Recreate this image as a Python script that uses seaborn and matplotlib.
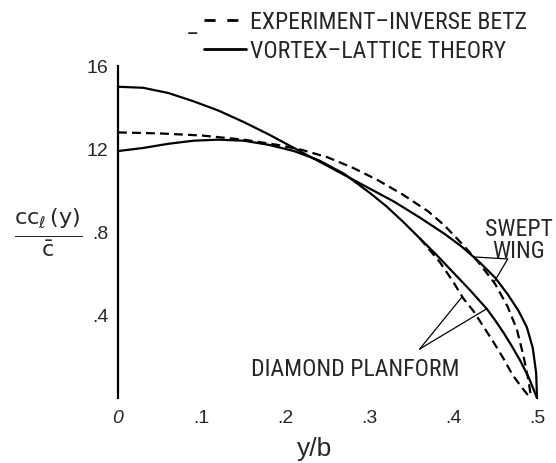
import matplotlib
matplotlib.use("Agg")
import matplotlib.pyplot as plt
import seaborn as sns
import pandas as pd
from matplotlib.lines import Line2D

# ---------------- data ----------------
swept_theory_x = [0.0, 0.03, 0.06, 0.09, 0.12, 0.15, 0.18, 0.21, 0.24, 0.27, 0.30, 0.33, 0.36,
                  0.39, 0.41, 0.43, 0.45, 0.465, 0.478, 0.488, 0.495, 0.499, 0.5]
swept_theory_y = [1.50, 1.495, 1.47, 1.43, 1.385, 1.33, 1.27, 1.205, 1.14, 1.075, 1.01, 0.945, 0.87,
                  0.79, 0.73, 0.66, 0.58, 0.50, 0.42, 0.34, 0.24, 0.12, 0.0]

diamond_theory_x = [0.0, 0.03, 0.06, 0.09, 0.12, 0.15, 0.18, 0.21, 0.24, 0.27, 0.30, 0.32, 0.34,
                    0.36, 0.38, 0.40, 0.42, 0.44, 0.45, 0.46, 0.47, 0.48, 0.49, 0.5]
diamond_theory_y = [1.19, 1.205, 1.225, 1.24, 1.245, 1.24, 1.22, 1.19, 1.145, 1.08, 0.99, 0.925, 0.85,
                    0.77, 0.69, 0.605, 0.52, 0.43, 0.375, 0.315, 0.25, 0.18, 0.10, 0.0]

swept_exp_x = [0.0, 0.05, 0.10, 0.15, 0.19, 0.22, 0.25, 0.28, 0.31, 0.34, 0.37, 0.39, 0.41,
               0.43, 0.45, 0.465, 0.476, 0.484, 0.49, 0.493]
swept_exp_y = [1.28, 1.275, 1.265, 1.245, 1.22, 1.195, 1.16, 1.11, 1.05, 0.98, 0.90, 0.83, 0.745,
               0.655, 0.55, 0.44, 0.33, 0.20, 0.08, 0.0]

diamond_exp_x = [0.36, 0.384, 0.40, 0.412, 0.424, 0.436, 0.448, 0.46, 0.471, 0.482, 0.49]
diamond_exp_y = [0.77, 0.655, 0.56, 0.48, 0.42, 0.345, 0.27, 0.19, 0.11, 0.05, 0.01]

x_ticks = [0.0, 0.1, 0.2, 0.3, 0.4, 0.5]
x_tick_labels = ["0", ".1", ".2", ".3", ".4", ".5"]
y_ticks = [0.4, 0.8, 1.2, 1.6]
y_tick_labels = [".4", ".8", "12", "16"]

legend_labels = ["EXPERIMENT\u2013INVERSE BETZ", "VORTEX\u2013LATTICE THEORY"]

# ---------------- style ----------------
sns.set_style("white")
NARROW = ["Liberation Sans Narrow", "Roboto Condensed", "Open Sans Condensed",
          "Liberation Sans", "DejaVu Sans"]
REG = ["Liberation Sans", "DejaVu Sans"]
plt.rcParams["font.family"] = NARROW
plt.rcParams["mathtext.fontset"] = "dejavusans"

W, H = 556, 464
fig = plt.figure(figsize=(W / 100, H / 100), dpi=100)
ax = fig.add_axes([118 / W, (H - 399) / H, 419 / W, 332 / H])

# fit the annotation font size to the reference text width
renderer = fig.canvas.get_renderer()
probe = fig.text(0, 0, legend_labels[0], fontsize=16)
wpx = probe.get_window_extent(renderer).width
probe.remove()
FS = 16 * 277 / wpx
EM = FS * 100 / 72  # px

DASH = (0, (4.0, 2.3))
curves = [
    (swept_theory_x, swept_theory_y, "-"),
    (diamond_theory_x, diamond_theory_y, "-"),
    (swept_exp_x, swept_exp_y, DASH),
    (diamond_exp_x, diamond_exp_y, DASH),
]
for xs, ys, ls in curves:
    df = pd.DataFrame({"x": xs, "y": ys})
    sns.lineplot(data=df, x="x", y="y", ax=ax, color="black", lw=1.6,
                 linestyle=ls, sort=False, estimator=None, legend=False,
                 clip_on=False)

ax.set_xlim(0, 0.5)
ax.set_ylim(0, 1.6)
ax.set_xticks(x_ticks)
ax.set_xticklabels(x_tick_labels, family=REG, fontsize=14)
ax.get_xticklabels()[0].set_fontstyle("italic")
ax.set_yticks(y_ticks)
ax.set_yticklabels(y_tick_labels, family=REG, fontsize=14)
ax.tick_params(axis="y", direction="in", length=7, width=1.3, pad=7, color="black")
ax.tick_params(axis="x", direction="in", length=4, width=1.0, pad=8, color="black")

for s in ["top", "right", "bottom"]:
    ax.spines[s].set_visible(False)
ax.spines["left"].set_linewidth(1.6)
ax.spines["left"].set_color("black")

ax.set_xlabel("y/b", family=REG, fontsize=19)
ax.xaxis.label.set_va("center")
ax.xaxis.set_label_coords(0.47, -0.15)
ax.set_ylabel(r"$\frac{\mathrm{cc}_{\ell}\,\mathrm{(y)}}{\bar{\mathrm{c}}}$", rotation=0,
              fontsize=23, ha="center", va="center")
ax.yaxis.set_label_coords(-0.166, 0.50)

# ---------------- annotations ----------------
ax.text(0.2834, 0.14, "DIAMOND PLANFORM", fontsize=FS, ha="center", va="center")
ax.text(0.478, 0.765, "SWEPT\nWING", fontsize=FS, ha="center", va="center",
        linespacing=0.95)
lp = dict(arrowstyle="-", lw=0.9, color="black", shrinkA=0, shrinkB=0)
ax.annotate("", xy=(0.4105, 0.487), xytext=(0.360, 0.236), arrowprops=lp)
ax.annotate("", xy=(0.440, 0.43), xytext=(0.360, 0.236), arrowprops=lp)
ax.annotate("", xy=(0.424, 0.68), xytext=(0.465, 0.67), arrowprops=lp)
ax.annotate("", xy=(0.449, 0.56), xytext=(0.465, 0.67), arrowprops=lp)

# ---------------- legend ----------------
h1 = Line2D([], [], color="black", lw=2.0, linestyle=(0, (4.0, 4.2)))
h2 = Line2D([], [], color="black", lw=2.0)
ax.legend([h1, h2], legend_labels, loc="upper left",
          bbox_to_anchor=(204 / W, 1 - 11 / H), bbox_transform=fig.transFigure,
          frameon=False, fontsize=FS, handlelength=42 / EM, handletextpad=4 / EM,
          labelspacing=6 / EM, borderpad=0, borderaxespad=0)
fig.text(188 / W, 1 - 32 / H, "_", fontsize=FS, ha="left", va="baseline")

fig.savefig("out.png", dpi=100)
